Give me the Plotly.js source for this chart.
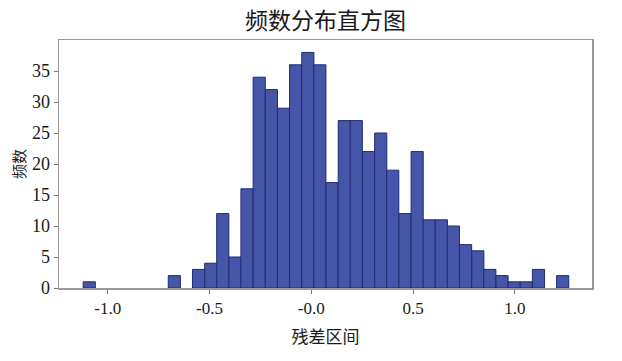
<!DOCTYPE html>
<html>
<head>
<meta charset="utf-8">
<script src="https://cdn.plot.ly/plotly-3.0.1.min.js"></script>
<style>html,body{margin:0;padding:0;background:#fff;}#chart{width:622px;height:361px;}</style>
</head>
<body>
<div id="chart"></div>
<script>
// Bin centres (residual value) and frequencies
const binCenters = [-1.091,-1.031,-0.972,-0.912,-0.852,-0.793,-0.733,-0.673,-0.614,-0.554,
  -0.494,-0.435,-0.375,-0.316,-0.256,-0.196,-0.137,-0.077,-0.017,0.042,
  0.102,0.162,0.221,0.281,0.341,0.400,0.460,0.520,0.579,0.639,
  0.698,0.758,0.818,0.877,0.937,0.997,1.056,1.116,1.176,1.235];
const frequencies = [1,0,0,0,0,0,0,2,0,3,
  4,12,5,16,34,32,29,36,38,36,
  17,27,27,22,25,19,12,22,11,11,
  10,7,6,3,2,1,1,3,0,2];
const binWidth = 0.05965;
const xTickVals = [-1.0,-0.5,0.0,0.5,1.0];
const xTickText = ['-1.0','-0.5','-0.0','0.5','1.0'];
const yTickVals = [0,5,10,15,20,25,30,35];

const serif = '"Liberation Serif", "Times New Roman", "Noto Sans CJK SC", serif';
const cjk = '"Noto Sans CJK SC", "Liberation Serif", serif';

const trace = {
  type: 'bar',
  x: binCenters,
  y: frequencies,
  width: binWidth,
  marker: {color: '#4556a8', line: {color: '#1f2b72', width: frequencies.map(f => f > 0 ? 1 : 0)}},
  hoverinfo: 'x+y'
};

const layout = {
  width: 622, height: 361,
  margin: {l: 58.5, r: 30, t: 40, b: 72.5, pad: 0},
  paper_bgcolor: '#ffffff', plot_bgcolor: '#ffffff',
  showlegend: false,
  bargap: 0,
  title: {text: '频数分布直方图', font: {family: cjk, size: 23, color: '#1a1a1a'},
          x: 0.5, xref: 'paper', xanchor: 'center', y: 0.942, yref: 'container', yanchor: 'middle'},
  xaxis: {
    range: [-1.2396, 1.379],
    tickmode: 'array', tickvals: xTickVals, ticktext: xTickText,
    ticks: 'outside', ticklen: 4, tickwidth: 1, tickcolor: '#777',
    tickfont: {family: serif, size: 17, color: '#1a1a1a'},
    showgrid: false, zeroline: false,
    showline: true, linecolor: '#9a9a9a', linewidth: 1.5, mirror: true,
    title: {text: '残差区间', font: {family: cjk, size: 17, color: '#1a1a1a'}, standoff: 14},
    automargin: false
  },
  yaxis: {
    range: [0, 40],
    tickmode: 'array', tickvals: yTickVals,
    ticks: 'outside', ticklen: 4, tickwidth: 1, tickcolor: '#777',
    tickfont: {family: serif, size: 18, color: '#1a1a1a'},
    showgrid: false, zeroline: false,
    showline: true, linecolor: '#9a9a9a', linewidth: 1.5, mirror: true,
    title: {text: '频数', font: {family: cjk, size: 15, color: '#1a1a1a'}, standoff: 2},
    automargin: false
  }
};

Plotly.newPlot('chart', [trace], layout, {displayModeBar: false, staticPlot: true});
</script>
</body>
</html>
